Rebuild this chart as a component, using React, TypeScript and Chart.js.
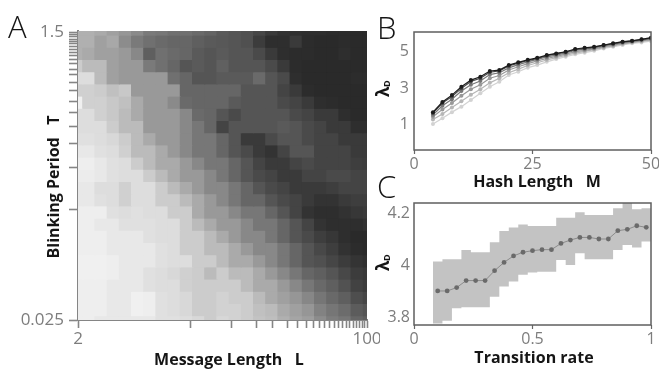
import React, { useEffect, useRef } from 'react';
import { Chart, registerables } from 'chart.js';

Chart.register(...registerables);

// ---------------- Panel A : heatmap (gray level of each cell, rows top -> bottom, cols left -> right)
const heatGray: number[][] = [
  [176, 176, 170, 160, 150, 138, 122, 119, 112, 112, 106, 100, 90, 85, 80, 70, 58, 50, 48, 46, 46, 44, 44, 42, 42],
  [176, 176, 160, 168, 140, 122, 112, 106, 102, 102, 95, 90, 88, 85, 80, 60, 46, 46, 58, 44, 42, 42, 44, 42, 42],
  [176, 170, 160, 160, 153, 136, 95, 112, 106, 102, 90, 85, 90, 85, 85, 74, 58, 46, 44, 44, 42, 42, 46, 42, 42],
  [204, 187, 187, 160, 153, 153, 122, 112, 102, 85, 90, 85, 96, 85, 85, 85, 74, 58, 44, 42, 42, 42, 42, 42, 42],
  [221, 221, 187, 160, 153, 153, 153, 153, 112, 102, 85, 85, 90, 90, 90, 106, 85, 74, 46, 42, 42, 42, 42, 44, 44],
  [208, 208, 204, 192, 200, 153, 153, 153, 153, 102, 102, 102, 102, 102, 85, 85, 85, 68, 58, 44, 42, 42, 42, 42, 42],
  [240, 208, 208, 200, 192, 170, 153, 153, 138, 106, 102, 102, 102, 90, 85, 85, 85, 74, 68, 58, 46, 44, 42, 42, 42],
  [221, 221, 208, 200, 187, 170, 153, 153, 153, 136, 106, 102, 85, 74, 85, 85, 85, 85, 74, 68, 58, 58, 46, 42, 42],
  [221, 221, 221, 204, 187, 187, 153, 153, 153, 136, 119, 102, 68, 85, 85, 85, 85, 90, 85, 74, 68, 58, 58, 46, 46],
  [224, 224, 221, 216, 204, 187, 170, 153, 153, 136, 119, 119, 102, 85, 58, 58, 74, 85, 85, 74, 68, 68, 58, 58, 58],
  [232, 232, 224, 221, 208, 187, 187, 170, 153, 136, 119, 119, 102, 85, 74, 58, 51, 68, 85, 85, 68, 68, 68, 58, 58],
  [238, 238, 232, 224, 221, 204, 187, 170, 170, 153, 136, 119, 119, 102, 85, 68, 58, 58, 68, 74, 68, 68, 68, 62, 60],
  [236, 236, 232, 224, 221, 221, 204, 187, 170, 153, 153, 136, 119, 102, 85, 74, 68, 58, 58, 68, 68, 74, 74, 68, 68],
  [232, 232, 221, 221, 208, 221, 221, 204, 187, 170, 153, 136, 136, 119, 102, 85, 74, 68, 58, 58, 58, 62, 68, 68, 68],
  [232, 232, 224, 221, 208, 221, 221, 204, 204, 187, 170, 153, 136, 119, 102, 102, 85, 74, 68, 58, 51, 51, 58, 62, 62],
  [238, 238, 238, 224, 221, 224, 221, 221, 204, 204, 170, 153, 153, 136, 119, 119, 102, 85, 68, 51, 46, 46, 50, 55, 58],
  [238, 238, 232, 232, 224, 224, 224, 221, 221, 204, 187, 170, 153, 153, 136, 119, 119, 102, 85, 68, 51, 46, 46, 46, 50],
  [238, 238, 238, 232, 232, 232, 224, 221, 221, 204, 204, 187, 170, 153, 136, 136, 119, 102, 85, 74, 62, 55, 46, 42, 42],
  [238, 238, 238, 232, 232, 232, 232, 224, 221, 204, 204, 187, 187, 170, 153, 136, 136, 119, 102, 85, 72, 62, 50, 44, 42],
  [240, 240, 240, 238, 232, 232, 232, 224, 221, 221, 204, 204, 187, 170, 170, 153, 136, 119, 102, 85, 80, 70, 60, 52, 48],
  [240, 240, 240, 238, 232, 232, 224, 221, 216, 208, 204, 187, 204, 187, 187, 170, 153, 136, 119, 102, 95, 85, 72, 60, 56],
  [238, 238, 238, 232, 232, 232, 224, 221, 221, 208, 204, 204, 204, 204, 187, 170, 170, 153, 136, 119, 105, 95, 82, 66, 60],
  [238, 238, 238, 232, 232, 240, 238, 224, 221, 216, 204, 204, 210, 204, 204, 187, 170, 160, 150, 135, 118, 105, 95, 78, 70],
  [238, 238, 238, 232, 232, 240, 238, 224, 221, 216, 204, 204, 210, 210, 204, 192, 187, 170, 160, 150, 130, 118, 108, 92, 85],
  [238, 238, 232, 232, 232, 232, 232, 224, 224, 221, 216, 204, 215, 210, 204, 195, 190, 176, 165, 158, 140, 125, 118, 102, 95],
];
// tick marks of the message-length axis (in cell units) and their labels
const lengthTicks = [0.607, 9.79, 13.2, 15.2, 16.57, 17.76, 18.58, 19.35, 19.89, 20.39, 20.85, 21.26, 21.61, 21.94, 22.3, 22.63, 22.9, 23.17, 23.45, 23.66, 23.91, 24.11, 24.295];
const lengthTickLabels = ['2', '', '', '', '', '', '', '', '', '', '', '', '', '', '', '', '', '', '', '', '', '', '100'];
// tick marks of the blinking-period axis (in cell units, top -> bottom) and their labels
const periodTicks = [0.779, 0.943, 1.139, 1.328, 1.516, 1.713, 1.926, 2.172, 2.418, 2.664, 2.992, 3.32, 3.787, 4.254, 4.91, 5.566, 6.41, 7.336, 8.459, 9.877, 11.844, 15.287, 24.36];
const periodTickLabels = ['1.5', '', '', '', '', '', '', '', '', '', '', '', '', '', '', '', '', '', '', '', '', '', '0.025'];

// ---------------- Panel B : lambda_D vs hash length
const hashLengths = [4, 6, 8, 10, 12, 14, 16, 18, 20, 22, 24, 26, 28, 30, 32, 34, 36, 38, 40, 42, 44, 46, 48, 50];
const lambdaB1 = [1.05, 1.36, 1.7, 2.0, 2.36, 2.73, 3.09, 3.36, 3.73, 3.91, 4.13, 4.27, 4.45, 4.6, 4.73, 4.86, 4.95, 5.05, 5.18, 5.27, 5.37, 5.46, 5.51, 5.58];
const lambdaB2 = [1.3, 1.6, 1.95, 2.3, 2.65, 2.95, 3.3, 3.55, 3.85, 4.05, 4.25, 4.4, 4.55, 4.68, 4.8, 4.93, 5.02, 5.12, 5.22, 5.32, 5.42, 5.5, 5.56, 5.64];
const lambdaB3 = [1.45, 1.85, 2.2, 2.6, 2.95, 3.2, 3.55, 3.7, 4.0, 4.18, 4.35, 4.5, 4.63, 4.75, 4.87, 5.0, 5.08, 5.16, 5.27, 5.36, 5.46, 5.53, 5.6, 5.68];
const lambdaB4 = [1.55, 2.05, 2.4, 2.85, 3.2, 3.4, 3.75, 3.85, 4.12, 4.3, 4.45, 4.58, 4.72, 4.82, 4.93, 5.07, 5.14, 5.21, 5.32, 5.41, 5.5, 5.57, 5.64, 5.72];
const lambdaB5 = [1.65, 2.2, 2.55, 3.0, 3.38, 3.55, 3.88, 3.95, 4.22, 4.38, 4.52, 4.63, 4.78, 4.88, 4.98, 5.12, 5.19, 5.25, 5.35, 5.44, 5.53, 5.59, 5.67, 5.75];
const lambdaB6 = [1.7, 2.25, 2.63, 3.09, 3.45, 3.63, 3.95, 4.0, 4.27, 4.42, 4.56, 4.67, 4.82, 4.91, 5.0, 5.15, 5.22, 5.27, 5.37, 5.46, 5.55, 5.6, 5.68, 5.77];
const hashTicks = [0, 25, 50];
const lambdaBTicks = [1, 3, 5];

// ---------------- Panel C : lambda_D vs transition rate
const transitionRates = [0.1, 0.14, 0.18, 0.22, 0.26, 0.3, 0.34, 0.38, 0.42, 0.46, 0.5, 0.54, 0.58, 0.62, 0.66, 0.7, 0.74, 0.78, 0.82, 0.86, 0.9, 0.94, 0.98];
const lambdaMean = [3.9, 3.9, 3.913, 3.94, 3.94, 3.94, 3.978, 4.01, 4.035, 4.049, 4.055, 4.059, 4.059, 4.083, 4.096, 4.106, 4.106, 4.1, 4.1, 4.132, 4.137, 4.151, 4.145];
const lambdaUpper = [4.013, 4.022, 4.022, 4.058, 4.049, 4.049, 4.087, 4.131, 4.144, 4.156, 4.15, 4.15, 4.15, 4.182, 4.182, 4.203, 4.192, 4.192, 4.192, 4.218, 4.245, 4.214, 4.218];
const lambdaLower = [3.775, 3.785, 3.833, 3.837, 3.837, 3.837, 3.878, 3.917, 3.936, 3.962, 3.971, 3.974, 3.974, 4.019, 4.0, 4.045, 4.022, 4.022, 4.022, 4.058, 4.077, 4.067, 4.09];
const rateTicks = [0, 0.5, 1];
const rateTickLabels = ['0', '0.5', '1'];
const lambdaCTicks = [3.8, 4, 4.2];
const lambdaCTickLabels = ['3.8', '4', '4.2'];

// ---------------- helpers
const TICK_FONT = { family: '"Open Sans", sans-serif', size: 17 };
const TICK_COLOR = '#7d7d7d';
const TITLE_FONT = 'bold 16px "Open Sans", sans-serif';

const setTicks = (values: number[]) => (scale: any) => {
  scale.ticks = values.map((v) => ({ value: v }));
};
const pin = (dim: 'width' | 'height', size: number) => (scale: any) => {
  scale[dim] = size;
  scale.paddingLeft = 0;
  scale.paddingRight = 0;
  scale.paddingTop = 0;
  scale.paddingBottom = 0;
};

type TextItem = {
  text: string;
  x: number;
  y: number;
  font: string;
  color?: string;
  align?: CanvasTextAlign;
  baseline?: CanvasTextBaseline;
  rotate?: number;
};

const overlay = (items: TextItem[], frame: boolean) => ({
  id: 'overlayText',
  afterDraw(chart: any) {
    const ctx: CanvasRenderingContext2D = chart.ctx;
    if (frame) {
      const { left, top, right, bottom } = chart.chartArea;
      ctx.save();
      ctx.strokeStyle = '#5f5f5f';
      ctx.lineWidth = 1.5;
      ctx.strokeRect(left, top, right - left, bottom - top);
      ctx.restore();
    }
    for (const it of items) {
      ctx.save();
      ctx.translate(it.x, it.y);
      if (it.rotate) ctx.rotate(it.rotate);
      ctx.font = it.font;
      ctx.fillStyle = it.color ?? '#151515';
      ctx.textAlign = it.align ?? 'left';
      ctx.textBaseline = it.baseline ?? 'alphabetic';
      ctx.fillText(it.text, 0, 0);
      ctx.restore();
    }
  },
});

const LETTER_FONT = '300 31px "Open Sans", sans-serif';
const lambdaLabel = (x: number, y: number): TextItem[] => [
  { text: 'λ', x, y, font: 'bold 17px "Open Sans", sans-serif', rotate: -Math.PI / 2 },
  { text: 'D', x: x + 1, y: y - 10, font: 'bold 9px "Open Sans", sans-serif', rotate: -Math.PI / 2 },
];

const baseOpts = {
  responsive: false,
  animation: false as const,
  plugins: { legend: { display: false }, tooltip: { enabled: false } },
};

export default function App() {
  const refA = useRef<HTMLCanvasElement>(null);
  const refB = useRef<HTMLCanvasElement>(null);
  const refC = useRef<HTMLCanvasElement>(null);

  useEffect(() => {
    document.body.style.margin = '0';
    const charts: Chart[] = [];

    // ---------- A
    charts.push(
      new Chart(refA.current!, {
        type: 'bar',
        data: {
          datasets: heatGray.map((row, r) => ({
            data: row.map((_g, c) => ({ x: c + 0.5, y: [r, r + 1] })),
            backgroundColor: row.map((g) => `rgb(${g},${g},${g})`),
            borderWidth: 0,
            grouped: false,
            barPercentage: 1,
            categoryPercentage: 1,
            inflateAmount: 0.6,
            clip: 0,
            xAxisID: 'xCells',
            yAxisID: 'yCells',
          })) as any,
        },
        options: {
          ...baseOpts,
          layout: { padding: { top: 31, right: 13, bottom: 0, left: 0 } },
          scales: {
            xCells: {
              type: 'linear', display: false, min: 0.607, max: 24.295, offset: false,
              grid: { offset: false },
              afterBuildTicks: (s: any) => { s.ticks = []; },
            },
            yCells: { type: 'linear', display: false, reverse: true, min: 0.672, max: 24.36 },
            xLen: {
              type: 'linear', position: 'bottom', min: 0.607, max: 24.295, offset: false,
              afterBuildTicks: setTicks(lengthTicks),
              afterFit: pin('height', 49),
              grid: { offset: false, drawOnChartArea: false, tickLength: 8, tickColor: '#858585', tickWidth: 1.6 },
              border: { color: '#858585', width: 2 },
              ticks: {
                autoSkip: false, maxRotation: 0, minRotation: 0, padding: 1,
                color: TICK_COLOR, font: TICK_FONT,
                callback: (_v: any, i: number) => lengthTickLabels[i] ?? '',
              },
            },
            yPer: {
              type: 'linear', position: 'left', reverse: true, min: 0.672, max: 24.36,
              afterBuildTicks: setTicks(periodTicks),
              afterFit: pin('width', 78),
              grid: { offset: false, drawOnChartArea: false, tickLength: 9, tickColor: '#858585', tickWidth: 1.6 },
              border: { color: '#858585', width: 2 },
              ticks: {
                autoSkip: false, padding: 5, color: TICK_COLOR, font: TICK_FONT,
                callback: (_v: any, i: number) => periodTickLabels[i] ?? '',
              },
            },
          } as any,
        },
        plugins: [
          overlay(
            [
              { text: 'A', x: 8, y: 38, font: LETTER_FONT },
              { text: 'Blinking Period   T', x: 54, y: 187, font: TITLE_FONT, align: 'center', baseline: 'middle', rotate: -Math.PI / 2 },
              { text: 'Message Length   L', x: 229, y: 365, font: TITLE_FONT, align: 'center' },
            ],
            false,
          ),
        ],
      } as any),
    );

    // ---------- B
    const bSeries = [lambdaB1, lambdaB2, lambdaB3, lambdaB4, lambdaB5, lambdaB6];
    const bColors = ['#d2d2d2', '#b6b6b6', '#989898', '#777777', '#4a4a4a', '#1c1c1c'];
    charts.push(
      new Chart(refB.current!, {
        type: 'line',
        data: {
          datasets: bSeries.map((vals, k) => ({
            data: vals.map((v, i) => ({ x: hashLengths[i], y: v })),
            borderColor: bColors[k],
            backgroundColor: bColors[k],
            pointBackgroundColor: bColors[k],
            pointBorderWidth: 0,
            pointRadius: 2,
            borderWidth: 1.2,
            tension: 0,
            order: bSeries.length - k,
          })),
        },
        options: {
          ...baseOpts,
          layout: { padding: { top: 32, right: 8, bottom: 0, left: 0 } },
          scales: {
            x: {
              type: 'linear', min: 0, max: 50,
              afterBuildTicks: setTicks(hashTicks),
              afterFit: pin('height', 42),
              grid: { drawOnChartArea: false, tickLength: 4, tickColor: '#666', tickWidth: 1.2 },
              border: { display: false },
              ticks: { autoSkip: false, maxRotation: 0, padding: 1, color: TICK_COLOR, font: { ...TICK_FONT, size: 16 } },
            },
            y: {
              type: 'linear', min: -0.37, max: 6.08,
              afterBuildTicks: setTicks(lambdaBTicks),
              afterFit: pin('width', 54),
              grid: { display: false, drawTicks: false },
              border: { display: false },
              ticks: { autoSkip: false, padding: 5, color: TICK_COLOR, font: { ...TICK_FONT, size: 16 } },
            },
          } as any,
        },
        plugins: [
          overlay(
            [
              { text: 'B', x: 17, y: 39, font: LETTER_FONT },
              ...lambdaLabel(29, 97),
              { text: 'Hash Length   M', x: 177, y: 187, font: TITLE_FONT, align: 'center' },
            ],
            true,
          ),
        ],
      } as any),
    );

    // ---------- C
    const padX = [0.08, ...transitionRates, 1.0];
    const pad = (arr: number[]) => [arr[0], ...arr, arr[arr.length - 1]];
    const upperP = pad(lambdaUpper);
    const lowerP = pad(lambdaLower);
    charts.push(
      new Chart(refC.current!, {
        type: 'line',
        data: {
          datasets: [
            {
              data: padX.map((x, i) => ({ x, y: upperP[i] })),
              stepped: 'middle', fill: '+1', backgroundColor: '#c3c3c3',
              borderWidth: 0, pointRadius: 0, clip: 0, order: 1,
            },
            {
              data: padX.map((x, i) => ({ x, y: lowerP[i] })),
              stepped: 'middle', fill: false, borderWidth: 0, pointRadius: 0, clip: 0, order: 1,
            },
            {
              data: transitionRates.map((x, i) => ({ x, y: lambdaMean[i] })),
              borderColor: '#8c8c8c', borderWidth: 1,
              pointRadius: 2.4, pointBorderWidth: 0, pointBackgroundColor: '#6a6a6a',
              tension: 0, fill: false, order: 0,
            },
          ],
        },
        options: {
          ...baseOpts,
          layout: { padding: { top: 35, right: 8, bottom: 0, left: 0 } },
          scales: {
            x: {
              type: 'linear', min: 0, max: 1,
              afterBuildTicks: setTicks(rateTicks),
              afterFit: pin('height', 44),
              grid: { drawOnChartArea: false, tickLength: 4, tickColor: '#666', tickWidth: 1.2 },
              border: { display: false },
              ticks: {
                autoSkip: false, maxRotation: 0, padding: 1, color: TICK_COLOR, font: { ...TICK_FONT, size: 16 },
                callback: (_v: any, i: number) => rateTickLabels[i] ?? '',
              },
            },
            y: {
              type: 'linear', min: 3.769, max: 4.2385,
              afterBuildTicks: setTicks(lambdaCTicks),
              afterFit: pin('width', 54),
              grid: { display: false, drawTicks: false },
              border: { display: false },
              ticks: {
                autoSkip: false, padding: 4, color: TICK_COLOR, font: { ...TICK_FONT, size: 16 },
                callback: (_v: any, i: number) => lambdaCTickLabels[i] ?? '',
              },
            },
          } as any,
        },
        plugins: [
          overlay(
            [
              { text: 'C', x: 17, y: 30, font: LETTER_FONT },
              ...lambdaLabel(29, 103),
              { text: 'Transition rate', x: 174, y: 195, font: TITLE_FONT, align: 'center' },
            ],
            true,
          ),
        ],
      } as any),
    );

    return () => charts.forEach((c) => c.destroy());
  }, []);

  return (
    <div style={{ position: 'relative', width: 659, height: 369, overflow: 'hidden', background: '#fff' }}>
      <canvas ref={refA} width={380} height={369} style={{ position: 'absolute', left: 0, top: 0 }} />
      <canvas ref={refB} width={299} height={192} style={{ position: 'absolute', left: 360, top: 0 }} />
      <canvas ref={refC} width={299} height={201} style={{ position: 'absolute', left: 360, top: 168 }} />
    </div>
  );
}
